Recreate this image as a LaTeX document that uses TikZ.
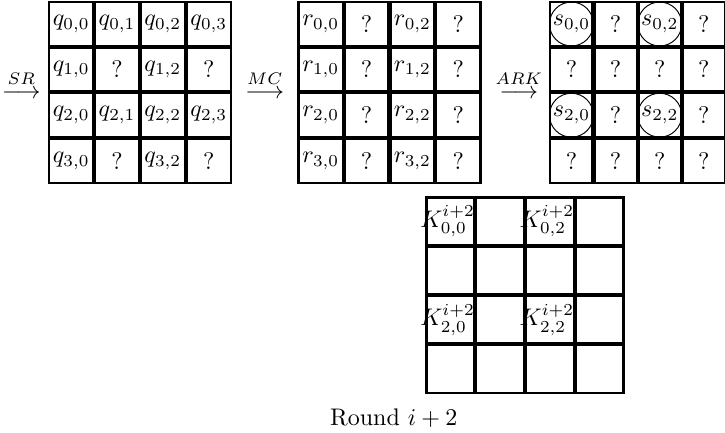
\documentclass[tikz,border=0pt]{standalone}
\usetikzlibrary{matrix, positioning, calc}

% key entry, allowed to run over the cell border
\newcommand{\keyent}[1]{\makebox[0pt]{\kern-2.5pt$K^{i+2}_{#1}$}}

\begin{document}
\begin{tikzpicture}[
    cell/.style = {draw, line width=1.1pt, inner sep=0pt, anchor=center,
                   minimum width=18.5pt, minimum height=18.4pt},
    grid/.style = {matrix of math nodes, inner sep=0pt,
                   column sep=-0.5pt, row sep=-0.5pt, nodes={cell}},
    keygrid/.style = {matrix of nodes, nodes in empty cells, inner sep=0pt,
                   column sep=-0.5pt, row sep=-0.5pt,
                   nodes={cell, minimum width=20.1pt, minimum height=19.9pt}},
    op/.style = {inner sep=0pt, anchor=base},
    oplabel/.style = {inner sep=0pt, label distance=1.9pt},
    ring/.style = {draw, circle, thin, inner sep=0pt, minimum size=18.3pt}
]
\useasboundingbox (0,0) rectangle (302.1pt,-180.4pt);

% =========================================================
% TOP ROW: state after SR, MC and ARK
% =========================================================
\matrix (m1) at (58.3pt,-38.5pt) [grid] {
    q_{0,0} & q_{0,1} & q_{0,2} & q_{0,3} \\
    q_{1,0} & ?       & q_{1,2} & ?       \\
    q_{2,0} & q_{2,1} & q_{2,2} & q_{2,3} \\
    q_{3,0} & ?       & q_{3,2} & ?       \\
};
\matrix (m2) [grid, right=26.7pt of m1] {
    r_{0,0} & ? & r_{0,2} & ? \\
    r_{1,0} & ? & r_{1,2} & ? \\
    r_{2,0} & ? & r_{2,2} & ? \\
    r_{3,0} & ? & r_{3,2} & ? \\
};
\matrix (m3) [grid, right=27.5pt of m2, nodes={minimum width=17.8pt}] {
    s_{0,0} & ? & s_{0,2} & ? \\
    ?       & ? & ?       & ? \\
    s_{2,0} & ? & s_{2,2} & ? \\
    ?       & ? & ?       & ? \\
};

% known bytes
\foreach \c in {1-1,1-3,3-1,3-3}
    \node[ring] at (m3-\c) {};

% =========================================================
% OPERATIONS
% =========================================================
\node[op, anchor=base east, xshift=-2.5pt, yshift=-2.6pt,
      label={[oplabel]above:$\scriptstyle SR$}] (sr) at (m1.west) {$\longrightarrow$};
\node[op, label={[oplabel]above:$\scriptstyle MC$}] (mc)
      at ($(m1.east)!0.5!(m2.west)+(0,-2.6pt)$) {$\longrightarrow$};
\node[op, label={[oplabel]above:$\scriptstyle ARK$}] (ark)
      at ($(m2.east)!0.5!(m3.west)+(1.5pt,-2.6pt)$) {$\longrightarrow$};

% =========================================================
% ROUND KEY
% =========================================================
\coordinate (mid) at ($(m2.south)!0.5!(m3.south)$);
\matrix (key) [keygrid, below=4.6pt of mid, xshift=4.8pt] {
    \keyent{0,0} & & \keyent{0,2} & \\
                 & &              & \\
    \keyent{2,0} & & \keyent{2,2} & \\
                 & &              & \\
};

\path (key.south -| m2.south) ++(1.8pt,-12.8pt) node[anchor=base] (cap) {Round $i+2$};

\end{tikzpicture}
\end{document}
